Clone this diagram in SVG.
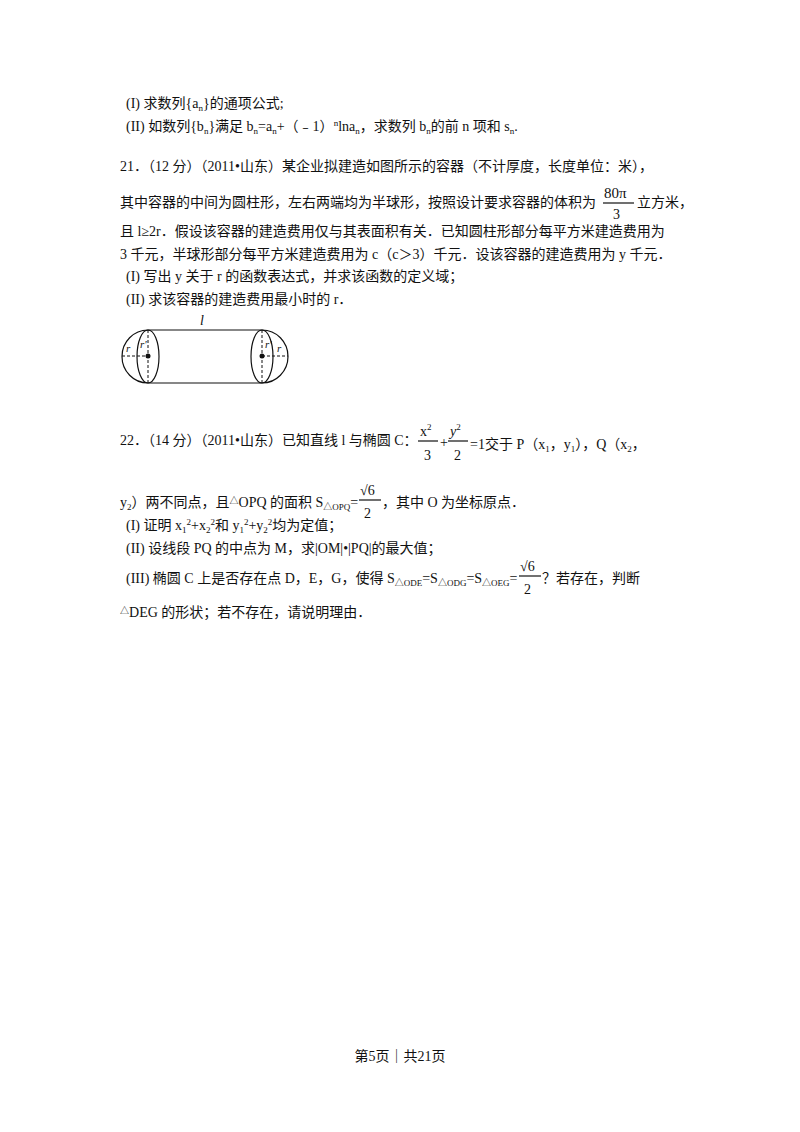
<svg xmlns="http://www.w3.org/2000/svg" width="800" height="1132" viewBox="0 0 800 1132">
<style>
text{font-family:"Liberation Serif","Noto Sans CJK SC",serif;font-size:14px;fill:#111}
.s{font-size:9px}
.f{stroke:#111;stroke-width:1.2;fill:none}
.d{stroke:#111;stroke-width:1;stroke-dasharray:3,2;fill:none}
</style>
<rect width="800" height="1132" fill="#fff"/>
<text x="126" y="108">(I) 求数列{a<tspan class="s" dy="3">n</tspan><tspan dy="-3">}的通项公式;</tspan></text>
<text x="126" y="131">(II) 如数列{b<tspan class="s" dy="3">n</tspan><tspan dy="-3">}满足 b</tspan><tspan class="s" dy="3">n</tspan><tspan dy="-3">=a</tspan><tspan class="s" dy="3">n</tspan><tspan dy="-3">+（﹣1）</tspan><tspan class="s" dy="-5">n</tspan><tspan dy="5">lna</tspan><tspan class="s" dy="3">n</tspan><tspan dy="-3">，求数列 b</tspan><tspan class="s" dy="3">n</tspan><tspan dy="-3">的前 n 项和 s</tspan><tspan class="s" dy="3">n</tspan><tspan dy="-3">.</tspan></text>
<text x="120" y="171">21．（12 分）（2011•山东）某企业拟建造如图所示的容器（不计厚度，长度单位：米），</text>
<text x="120" y="207">其中容器的中间为圆柱形，左右两端均为半球形，按照设计要求容器的体积为</text>
<text x="604" y="198" style="font-size:15px">80π</text>
<line x1="603" y1="203" x2="634" y2="203" class="f" stroke-width="0.8"/>
<text x="613" y="219">3</text>
<text x="637" y="207">立方米，</text>
<text x="120" y="236">且 l≥2r．假设该容器的建造费用仅与其表面积有关．已知圆柱形部分每平方米建造费用为</text>
<text x="120" y="259">3 千元，半球形部分每平方米建造费用为 c（c＞3）千元．设该容器的建造费用为 y 千元．</text>
<text x="126" y="281">(I) 写出 y 关于 r 的函数表达式，并求该函数的定义域；</text>
<text x="126" y="304">(II) 求该容器的建造费用最小时的 r．</text>
<g id="figure">
<line x1="148" y1="330" x2="262" y2="330" class="f"/>
<line x1="148" y1="383" x2="262" y2="383" class="f"/>
<path d="M148,330 A26,26.5 0 0 0 148,383" class="f"/>
<ellipse cx="148" cy="356.5" rx="11" ry="26.5" class="f"/>
<path d="M262,330 A26,26.5 0 0 1 262,383" class="f"/>
<ellipse cx="262" cy="356.5" rx="11" ry="26.5" class="f"/>
<line x1="148" y1="330" x2="148" y2="383" class="d"/>
<line x1="262" y1="330" x2="262" y2="383" class="d"/>
<line x1="122" y1="356" x2="148" y2="356" class="d"/>
<line x1="262" y1="356" x2="288" y2="356" class="d"/>
<circle cx="148" cy="356" r="2.5" fill="#111"/>
<circle cx="262" cy="356" r="2.5" fill="#111"/>
<text x="200" y="325" style="font-style:italic">l</text>
<text x="126" y="352" style="font-style:italic;font-size:11px">r</text>
<text x="140" y="348" style="font-style:italic;font-size:11px">r'</text>
<text x="265" y="348" style="font-style:italic;font-size:11px">r'</text>
<text x="277" y="352" style="font-style:italic;font-size:11px">r</text>
</g>
<text x="120" y="445">22．（14 分）（2011•山东）已知直线 l 与椭圆 C：</text>
<text x="420" y="436">x<tspan class="s" dy="-6">2</tspan></text>
<line x1="418" y1="441" x2="438" y2="441" class="f" stroke-width="0.8"/>
<text x="424" y="460">3</text>
<text x="440" y="447">+</text>
<text x="450" y="436" style="font-style:italic">y<tspan class="s" dy="-6" style="font-style:normal">2</tspan></text>
<line x1="448" y1="441" x2="468" y2="441" class="f" stroke-width="0.8"/>
<text x="454" y="460">2</text>
<text x="470" y="449">=1交于 P（x<tspan class="s" dy="3">1</tspan><tspan dy="-3">，y</tspan><tspan class="s" dy="3">1</tspan><tspan dy="-3">），Q（x</tspan><tspan class="s" dy="3">2</tspan><tspan dy="-3">，</tspan></text>
<text x="120" y="507">y<tspan class="s" dy="3">2</tspan><tspan dy="-3">）两不同点，且</tspan><tspan class="s" dy="-3">△</tspan><tspan dy="3">OPQ 的面积 S</tspan><tspan class="s" dy="3">△OPQ</tspan><tspan dy="-3">=</tspan></text>
<text x="360" y="495">√6</text>
<line x1="359" y1="500" x2="381" y2="500" class="f" stroke-width="0.8"/>
<text x="364" y="518">2</text>
<text x="382" y="507">，其中 O 为坐标原点．</text>
<text x="126" y="530">(I) 证明 x<tspan class="s" dy="3">1</tspan><tspan class="s" dy="-8">2</tspan><tspan dy="5">+x</tspan><tspan class="s" dy="3">2</tspan><tspan class="s" dy="-8">2</tspan><tspan dy="5">和 y</tspan><tspan class="s" dy="3">1</tspan><tspan class="s" dy="-8">2</tspan><tspan dy="5">+y</tspan><tspan class="s" dy="3">2</tspan><tspan class="s" dy="-8">2</tspan><tspan dy="5">均为定值；</tspan></text>
<text x="126" y="553">(II) 设线段 PQ 的中点为 M，求|OM|•|PQ|的最大值；</text>
<text x="126" y="583">(III) 椭圆 C 上是否存在点 D，E，G，使得 S<tspan class="s" dy="3">△ODE</tspan><tspan dy="-3">=S</tspan><tspan class="s" dy="3">△ODG</tspan><tspan dy="-3">=S</tspan><tspan class="s" dy="3">△OEG</tspan><tspan dy="-3">=</tspan></text>
<text x="520" y="571">√6</text>
<line x1="519" y1="576" x2="541" y2="576" class="f" stroke-width="0.8"/>
<text x="524" y="594">2</text>
<text x="542" y="583">？若存在，判断</text>
<text x="120" y="617"><tspan class="s" dy="-3">△</tspan><tspan dy="3">DEG 的形状；若不存在，请说明理由．</tspan></text>
<text x="400" y="1061" text-anchor="middle">第5页｜共21页</text>
</svg>
